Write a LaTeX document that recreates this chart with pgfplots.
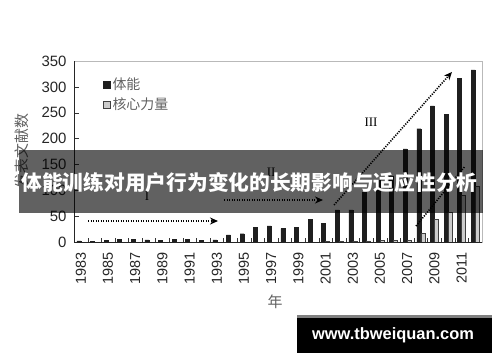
\documentclass[border=0pt]{standalone}
\usepackage{fontspec}
\setmainfont{Liberation Sans}
\newfontfamily\cjk{Noto Sans CJK SC}
\newfontfamily\serifnum{Liberation Serif}
\usepackage{pgfplots}
\usepackage{pgfplotstable}
\pgfplotsset{compat=1.18}
\usetikzlibrary{arrows.meta}

\pgfplotstableread{
year tineng hexin
1983 2 0
1984 1 0
1985 3 0
1986 5 0
1987 5 0
1988 4 0
1989 3 0
1990 5 0
1991 5 0
1992 3 0
1993 4 0
1994 14 0
1995 16 0
1996 28 0
1997 31 0
1998 26 0
1999 29 0
2000 44 0
2001 36 1
2002 62 1
2003 62 1
2004 96 2
2005 120 3
2006 128 3
2007 180 3
2008 219 16
2009 263 44
2010 247 57
2011 317 90
2012 333 108
}\datatable

\begin{document}
\begin{tikzpicture}[x=1bp,y=1bp]
\path[use as bounding box] (0,0) rectangle (500,362);
\begin{axis}[
  at={(74bp,120bp)}, anchor=south west,
  scale only axis, width=408bp, height=181bp,
  xmin=1982.5, xmax=2012.5, ymin=0, ymax=350,
  ybar=0pt, bar width=4bp,
  clip=false,
  xtick={1983,1985,...,2011},
  minor xtick={1983.5,1984.5,...,2011.5},
  major x tick style={draw=none},
  minor tick length=4bp,
  major tick length=5bp,
  ytick={0,50,...,350},
  tick align=inside,
  tick pos=left,
  axis line style={gray!55},
  tick style={black!80},
  /pgf/number format/assume math mode=true,
  /pgf/number format/1000 sep={},
  xticklabel style={rotate=90, anchor=east, font=\fontsize{14.5}{15}\selectfont, text=black!85},
  xticklabel shift=7bp,
  yticklabel style={font=\fontsize{15}{16}\selectfont, text=black!85},
  yticklabel shift=4bp,
  ylabel={发表文献数},
  ylabel style={at={(rel axis cs:-0.127,0.503)}, anchor=center, font=\cjk\fontsize{15}{16}\selectfont, text=gray!75!black},
  xlabel={年},
  xlabel style={at={(rel axis cs:0.493,-0.331)}, anchor=center, font=\cjk\fontsize{15}{16}\selectfont, text=gray!75!black},
  legend style={at={(rel axis cs:0.068,0.925)}, anchor=north west, draw=none, fill=none,
    font=\cjk\fontsize{14}{16}\selectfont, text=gray!75!black, row sep=3bp, inner sep=1bp},
  legend cell align=left,
  legend image code/.code={\draw[#1] (0bp,-3.5bp) rectangle (7bp,3.5bp);},
]
\addplot[fill=black!88, draw=black!88] table[x=year,y=tineng]{\datatable};
\addplot[fill=gray!40, draw=black!75, line width=0.6bp] table[x=year,y=hexin]{\datatable};
\legend{体能,核心力量}

\draw[black!85, line width=0.8bp] (rel axis cs:0,1) -- (rel axis cs:0,0) -- (rel axis cs:1,0);

% trend arrows
\draw[line width=1.6bp, dash pattern=on 1.2bp off 1.3bp, -{Stealth[length=8bp,width=7bp]}]
  (axis cs:1983.53,40.6) -- (axis cs:1993.09,40.6);
\draw[line width=1.6bp, dash pattern=on 1.2bp off 1.3bp, -{Stealth[length=8bp,width=7bp]}]
  (axis cs:1993.53,81.2) -- (axis cs:2000.81,81.2);
\draw[line width=1.6bp, dash pattern=on 1.2bp off 1.3bp, -{Stealth[length=8bp,width=7bp]}]
  (axis cs:2001.62,71.6) -- (axis cs:2010.29,328.8);
\draw[line width=1.6bp, dash pattern=on 1.2bp off 1.3bp]
  (axis cs:2007.65,30.9) -- (axis cs:2011.2,145);
\node[font=\serifnum\fontsize{13}{14}\selectfont] at (axis cs:1987.87,89) {I};
\node[font=\serifnum\fontsize{13}{14}\selectfont] at (axis cs:1996.99,135) {II};
\node[font=\serifnum\fontsize{13}{14}\selectfont] at (axis cs:2004.34,232) {III};
\end{axis}

% title banner overlay
\fill[black, opacity=0.62] (19,149) rectangle (483,212);
\node[text=white, font=\cjk\bfseries\fontsize{20.8}{22}\selectfont] at (249.5,179) {体能训练对用户行为变化的长期影响与适应性分析};

% watermark
\fill[black] (297,9) rectangle (492,47);
\fill[gray] (297,44) rectangle (492,47);
\node[text=white, font=\bfseries\fontsize{16.5}{18}\selectfont] at (393,27) {www.tbweiquan.com};
\end{tikzpicture}
\end{document}
